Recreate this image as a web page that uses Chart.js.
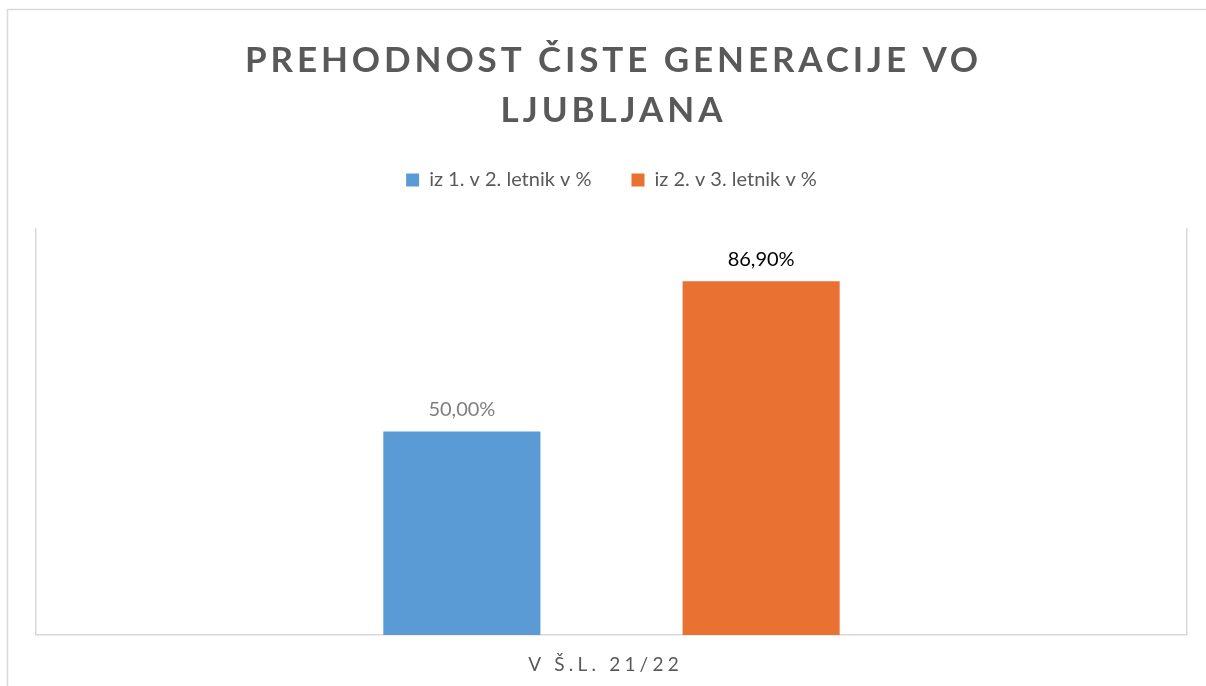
<!DOCTYPE html>
<html>
<head>
<meta charset="utf-8">
<script src="https://cdn.jsdelivr.net/npm/chart.js@4/dist/chart.umd.min.js"></script>
<style>
    html, body { margin: 0; padding: 0; background: #ffffff; }
    #wrap { width: 1206px; height: 686px; position: relative; }
</style>
</head>
<body>
<div id="wrap"><canvas id="prehodnostChart" width="1206" height="686"></canvas></div>
<script>
// podatki
const naslovVrstice = ['PREHODNOST ČISTE GENERACIJE VO', 'LJUBLJANA'];
const kategorije = ['V Š.L. 21/22'];
const serijaImena = ['iz 1. v 2. letnik v %', 'iz 2. v 3. letnik v %'];
const prvaVDrugi = [50.00];
const drugiVTretji = [86.90];
const barve = ['#5B9BD5', '#E97132'];
const barveOznak = ['#7F7F7F', '#000000'];

// okvir grafikona
const okvirPlugin = {
    id: 'okvir',
    beforeDraw(chart) {
        const ctx = chart.ctx;
        ctx.save();
        ctx.fillStyle = '#ffffff';
        ctx.fillRect(0, 0, chart.width, chart.height);
        ctx.strokeStyle = '#D9D9D9';
        ctx.lineWidth = 1.5;
        ctx.strokeRect(7.5, 9.5, chart.width + 20, chart.height + 20);
        ctx.restore();
    }
};

// vec prostora pod legendo
const legendaPlugin = {
    id: 'legendaRazmik',
    beforeLayout(chart) {
        const legenda = chart.legend;
        if (legenda && !legenda._razsirjena) {
            const origFit = legenda.fit.bind(legenda);
            legenda.fit = function () {
                origFit();
                this.height += 28;
            };
            legenda._razsirjena = true;
        }
    }
};

// naslov z razmikom med crkami
const naslovPlugin = {
    id: 'naslov',
    afterDraw(chart) {
        const ctx = chart.ctx;
        const sredina = (chart.chartArea.left + chart.chartArea.right) / 2;
        ctx.save();
        ctx.letterSpacing = '3.9px';
        ctx.font = 'bold 35px Lato';
        ctx.fillStyle = '#595959';
        ctx.textAlign = 'center';
        ctx.textBaseline = 'alphabetic';
        naslovVrstice.forEach((vrstica, i) => {
            ctx.fillText(vrstica, sredina + 2, 72 + i * 50);
        });
        ctx.restore();
    }
};

// oznaka kategorije pod osjo
const kategorijaPlugin = {
    id: 'kategorija',
    afterDraw(chart) {
        const ctx = chart.ctx;
        const x = chart.scales.x;
        ctx.save();
        ctx.letterSpacing = '4.2px';
        ctx.font = '19px Lato';
        ctx.fillStyle = '#595959';
        ctx.textAlign = 'center';
        ctx.textBaseline = 'middle';
        kategorije.forEach((k, i) => {
            ctx.fillText(k, x.getPixelForTick(i) - 6, x.bottom + 30);
        });
        ctx.restore();
    }
};

// vrednosti nad stolpci
const oznakePlugin = {
    id: 'oznake',
    afterDatasetsDraw(chart) {
        const ctx = chart.ctx;
        ctx.save();
        ctx.font = '20px Lato';
        ctx.textAlign = 'center';
        ctx.textBaseline = 'bottom';
        chart.data.datasets.forEach((ds, di) => {
            const meta = chart.getDatasetMeta(di);
            meta.data.forEach((bar, i) => {
                const tekst = ds.data[i].toFixed(2).replace('.', ',') + '%';
                ctx.fillStyle = barveOznak[di];
                ctx.fillText(tekst, bar.x, bar.y - 12);
            });
        });
        ctx.restore();
    }
};

document.addEventListener('DOMContentLoaded', () => {
    const ctx = document.getElementById('prehodnostChart').getContext('2d');
    new Chart(ctx, {
        type: 'bar',
        data: {
            labels: kategorije,
            datasets: [{
                label: serijaImena[0],
                data: prvaVDrugi,
                backgroundColor: barve[0],
                categoryPercentage: 0.52,
                barPercentage: 0.525
            }, {
                label: serijaImena[1],
                data: drugiVTretji,
                backgroundColor: barve[1],
                categoryPercentage: 0.52,
                barPercentage: 0.525
            }]
        },
        options: {
            responsive: false,
            animation: false,
            layout: {
                padding: { top: 130, left: 36, right: 19, bottom: 51 }
            },
            plugins: {
                title: { display: false },
                tooltip: { enabled: false },
                legend: {
                    display: true,
                    position: 'top',
                    labels: {
                        boxWidth: 13,
                        boxHeight: 13,
                        padding: 40,
                        color: '#595959',
                        font: { family: 'Lato', size: 20 }
                    }
                }
            },
            scales: {
                x: {
                    display: true,
                    ticks: { display: false },
                    grid: {
                        display: true,
                        offset: true,
                        drawTicks: false,
                        color: '#D9D9D9',
                        lineWidth: 1.5
                    },
                    border: { display: true, color: '#D9D9D9', width: 1.5 }
                },
                y: {
                    display: false,
                    min: 0,
                    max: 100
                }
            }
        },
        plugins: [okvirPlugin, legendaPlugin, naslovPlugin, kategorijaPlugin, oznakePlugin]
    });
});
</script>
</body>
</html>
